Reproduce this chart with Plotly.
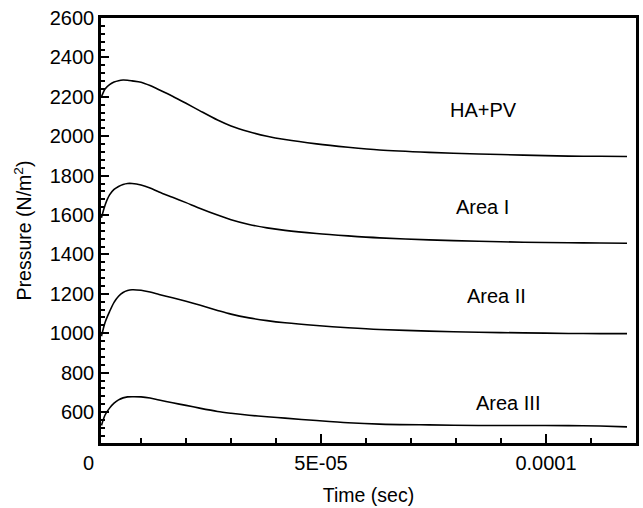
import plotly.graph_objects as go

# Time samples (seconds) shared by all four pressure histories
time_s = [t * 1e-6 for t in [1.2, 2, 3, 4, 5, 6, 7, 8, 10, 12, 14, 17, 20, 23, 27, 30,
                             34, 38, 42, 49, 56, 63, 74, 85, 95, 105, 112, 118]]

# Pressure (N/m^2) at each sample
p_hapv = [2200, 2240, 2262, 2275, 2282, 2285, 2284, 2281, 2274, 2257, 2236, 2203, 2167,
          2130, 2082, 2052, 2023, 2000, 1983, 1961, 1944, 1930, 1918, 1910, 1904, 1899, 1898, 1897]
p_area1 = [1586, 1650, 1702, 1730, 1745, 1755, 1760, 1760, 1752, 1737, 1717, 1690, 1663,
           1635, 1600, 1576, 1552, 1535, 1522, 1506, 1494, 1484, 1474, 1467, 1462, 1459, 1458, 1457]
p_area2 = [985, 1055, 1110, 1157, 1188, 1207, 1217, 1221, 1218, 1209, 1197, 1180, 1162,
           1143, 1116, 1097, 1078, 1064, 1053, 1039, 1028, 1019, 1011, 1005, 1002, 999, 998, 998]
p_area3 = [532, 585, 620, 645, 662, 672, 677, 678, 677, 671, 661, 647, 634,
           620, 603, 594, 584, 576, 569, 557, 546, 539, 535, 532, 532, 531, 529, 525]

series_names = ["HA+PV", "Area I", "Area II", "Area III"]
series_values = [p_hapv, p_area1, p_area2, p_area3]

# Curve labels: (time, pressure) anchor of each text
label_x = [8.61e-5, 8.58e-5, 8.89e-5, 9.16e-5]
label_y = [2132, 1640, 1190, 647]

x_tickvals = [0, 5e-5, 1e-4]
x_ticktext = ["0", "5E-05", "0.0001"]

FONT = "Arial, Liberation Sans, Helvetica, sans-serif"
TICK = "black"

fig = go.Figure()
for name, vals in zip(series_names, series_values):
    fig.add_trace(go.Scatter(
        x=time_s, y=vals, mode="lines", name=name,
        line=dict(color="black", width=1.6, shape="spline", smoothing=0.8),
        showlegend=False,
    ))

for name, lx, ly in zip(series_names, label_x, label_y):
    fig.add_annotation(x=lx, y=ly, xref="x", yref="y", text=name, showarrow=False,
                       font=dict(family=FONT, size=20, color="black"),
                       xanchor="center", yanchor="middle")

# The origin label sits just left of the plotted time range
fig.add_annotation(x=0, y=0, xref="paper", yref="paper", text=x_ticktext[0],
                   showarrow=False, font=dict(family=FONT, size=20, color="black"),
                   xanchor="center", yanchor="middle", xshift=-13, yshift=-20)

fig.update_layout(
    width=643, height=508,
    margin=dict(l=101, r=4, t=18, b=65),
    paper_bgcolor="white", plot_bgcolor="white",
    font=dict(family=FONT, size=20, color="black"),
    xaxis=dict(
        range=[1.1e-6, 1.2e-4],
        tickmode="array", tickvals=x_tickvals[1:], ticktext=x_ticktext[1:],
        ticks="inside", ticklen=9, tickwidth=2, tickcolor=TICK,
        minor=dict(tickmode="linear", tick0=0, dtick=1e-5, ticks="inside",
                   ticklen=5, tickwidth=2, tickcolor=TICK),
        showline=True, linecolor="black", linewidth=2.5, mirror=True,
        showgrid=False, zeroline=False,
        title=dict(text="Time (sec)", font=dict(size=19.5), standoff=16),
    ),
    yaxis=dict(
        range=[443, 2600],
        tickmode="linear", tick0=0, dtick=200,
        ticks="inside", ticklen=8, tickwidth=2, tickcolor=TICK,
        minor=dict(tickmode="linear", tick0=0, dtick=40, ticks="inside",
                   ticklen=4, tickwidth=2, tickcolor=TICK),
        showline=True, linecolor="black", linewidth=2.5, mirror=True,
        showgrid=False, zeroline=False,
        title=dict(text="Pressure (N/m<sup>2</sup>)", font=dict(size=19.5), standoff=13),
    ),
)

fig.write_html("out.html")
